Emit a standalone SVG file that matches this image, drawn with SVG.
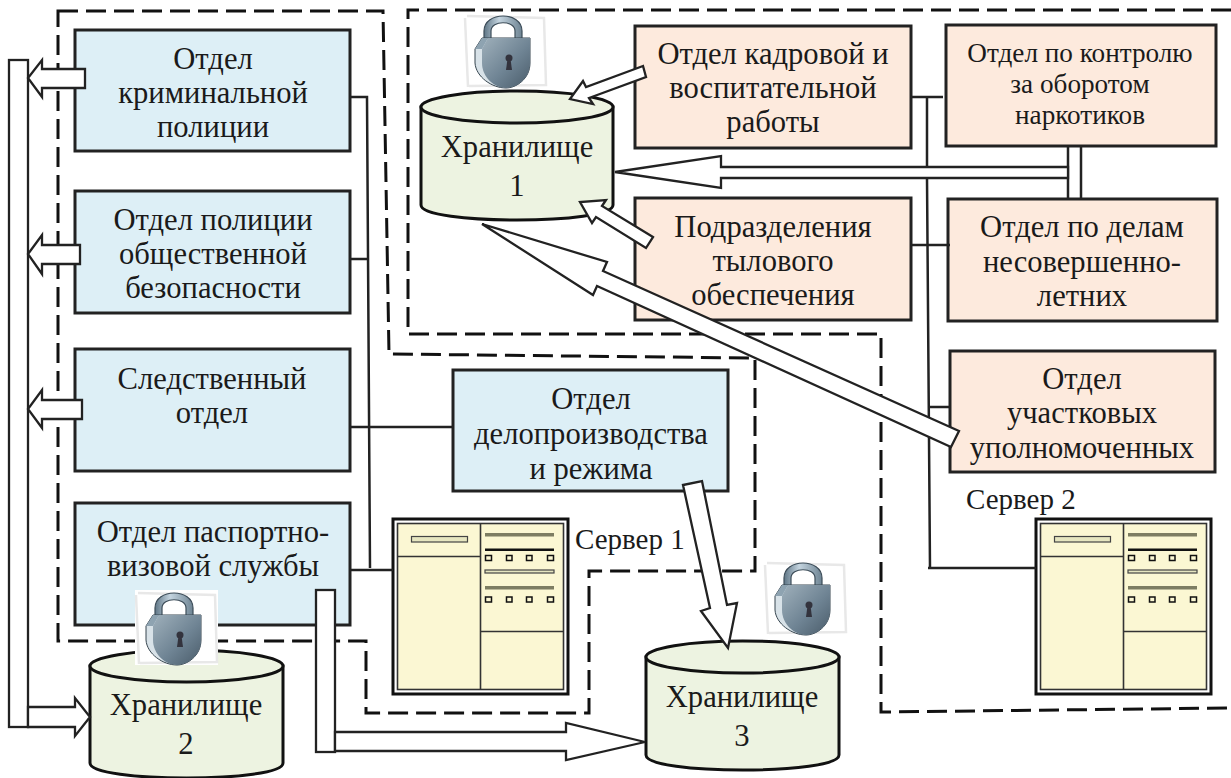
<svg xmlns="http://www.w3.org/2000/svg" width="1231" height="778" viewBox="0 0 1231 778">
<style>
text{font-family:"Liberation Serif","Times New Roman",serif;font-size:30.600px;fill:#1a1a1a;text-anchor:middle;transform:translate(0,1px)}
.sm{font-size:27.200px}
.lb{text-anchor:start;font-size:29px}
.box{stroke:#222;stroke-width:3}
.blue{fill:#ddeff6}
.peach{fill:#fdeadd}
.cyl{fill:#edf3e1;stroke:#111;stroke-width:3}
.dash{fill:none;stroke:#111;stroke-width:3;stroke-dasharray:20 8}
.ln{fill:none;stroke:#222;stroke-width:2.5}
.ar{fill:#fff;stroke:#222;stroke-width:2.3;stroke-linejoin:miter}
.s1{fill:#fbf7d3;stroke:#333;stroke-width:1.6}
.bar{fill:#e6e6c0;stroke:#444;stroke-width:1.2}
.gbar{fill:#7d7d62}
.sq{fill:#fbf7d3;stroke:#111;stroke-width:1.5}
</style>
<defs>
<linearGradient id="bodyG" x1="0" y1="0" x2="1" y2="1"><stop offset="0" stop-color="#9fb0bb"/><stop offset="0.55" stop-color="#6f8494"/><stop offset="1" stop-color="#4a5c6a"/></linearGradient>
<linearGradient id="shG" x1="0" y1="0" x2="1" y2="0"><stop offset="0" stop-color="#5f7686"/><stop offset="0.4" stop-color="#c4d4df"/><stop offset="1" stop-color="#6e8493"/></linearGradient>
<symbol id="lock" width="84" height="76" viewBox="0 0 84 76" overflow="visible">
<rect x="0" y="0" width="83" height="75" fill="#fff"/>
<path d="M1 5 L4 74 M3 3 L80 5 L82 72 L5 73" fill="none" stroke="#e8e8e8" stroke-width="2.500"/>
<path d="M20 30 V18 C20 -2 58 -2 58 18 V30 H51 V18 C51 7 27 7 27 18 V30Z" fill="url(#shG)" stroke="#3d4d59" stroke-width="1.200"/>
<path d="M11 36 L18 25 H66 V50 C66 66 52 75 42 75 C28 75 12 64 11 50Z" fill="#d8e2e8" stroke="#36454f" stroke-width="1"/>
<path d="M18 36 L24 25 H66 V50 C66 66 52 75 42 75 C30 75 18 64 18 50Z" fill="url(#bodyG)"/>
<path d="M11 36 H18 L24 25 H18Z" fill="#8ea3b1"/>
<circle cx="45" cy="45" r="3.500" fill="#33333d"/>
<path d="M43.500 46 L42 57 H48 L46.500 46Z" fill="#33333d"/>
</symbol>
<symbol id="srv" width="178" height="178" viewBox="0 0 178 178" overflow="visible">
<rect x="1" y="1" width="175" height="175" fill="#fff" stroke="#111" stroke-width="3"/>
<rect x="5.500" y="5.500" width="166" height="166" class="s1"/>
<path d="M5.500 38.500 H88.500 M88.500 5.500 V171.500 M88.500 113.500 H171.500" class="s1" fill="none"/>
<rect x="19.500" y="18.500" width="56" height="5.500" class="bar"/>
<rect x="93" y="15" width="69" height="3.500" class="gbar"/>
<rect x="93" y="30.500" width="69" height="2.500" fill="#111"/>
<rect x="93" y="52" width="69" height="3" class="bar"/>
<rect x="93" y="68" width="69" height="3.500" class="gbar"/>
<g class="sq">
<rect x="93.500" y="37.500" width="6" height="5"/><rect x="114.500" y="37.500" width="5.500" height="5"/><rect x="134.500" y="37.500" width="5.500" height="5"/><rect x="155.500" y="37.500" width="6" height="5"/>
<rect x="93.500" y="79" width="6" height="5"/><rect x="114.500" y="79" width="5.500" height="5"/><rect x="134.500" y="79" width="5.500" height="5"/><rect x="155.500" y="79" width="6" height="5"/>
</g>
</symbol>
</defs>

<g id="zones">
<path class="dash" d="M58 11 H383 L389 354 L755 358 V571 H589 V713 H366 V641 H58 Z"/>
<path class="dash" d="M1231 10 H408 V334 H881 V712 L1231 708"/>
</g>

<g id="otd-krim"><rect class="box blue" x="75" y="30" width="275" height="121"/><text x="213" y="68">Отдел</text><text x="213" y="102">криминальной</text><text x="213" y="136">полиции</text></g>
<g id="otd-ob"><rect class="box blue" x="75" y="191" width="275" height="122"/><text x="213" y="229">Отдел полиции</text><text x="213" y="263">общественной</text><text x="213" y="297">безопасности</text></g>
<g id="otd-sled"><rect class="box blue" x="75" y="349" width="275" height="122"/><text x="212" y="388">Следственный</text><text x="212" y="422">отдел</text></g>
<g id="otd-pasp"><rect class="box blue" x="75" y="503" width="275" height="122"/><text x="213" y="541">Отдел паспортно-</text><text x="213" y="575">визовой службы</text></g>
<g id="otd-delo"><rect class="box blue" x="453" y="370" width="275" height="121"/><text x="591" y="408">Отдел</text><text x="591" y="443">делопроизводства</text><text x="591" y="478">и режима</text></g>
<g id="otd-kadr"><rect class="box peach" x="635" y="26" width="276" height="122"/><text x="773" y="63">Отдел кадровой и</text><text x="773" y="97">воспитательной</text><text x="773" y="131">работы</text></g>
<g id="otd-tyl"><rect class="box peach" x="635" y="198" width="276" height="122"/><text x="773" y="236">Подразделения</text><text x="773" y="270">тылового</text><text x="773" y="304">обеспечения</text></g>
<g id="otd-nark"><rect class="box peach" x="946" y="25" width="270" height="121"/><text class="sm" x="1080" y="61">Отдел по контролю</text><text class="sm" x="1080" y="92">за оборотом</text><text class="sm" x="1080" y="123">наркотиков</text></g>
<g id="otd-nes"><rect class="box peach" x="948" y="199" width="269" height="122"/><text x="1082" y="236">Отдел по делам</text><text x="1082" y="271">несовершенно-</text><text x="1082" y="305">летних</text></g>
<g id="otd-uch"><rect class="box peach" x="950" y="351" width="265" height="121"/><text x="1082" y="388">Отдел</text><text x="1082" y="422">участковых</text><text x="1082" y="457">уполномоченных</text></g>

<g id="store1"><path class="cyl" d="M421 107 V205 C421 225 613 225 613 205 V107Z"/><ellipse class="cyl" cx="517" cy="107" rx="96" ry="16"/><text x="517" y="156">Хранилище</text><text x="517" y="195">1</text></g>
<g id="store2"><path class="cyl" d="M90 666 V763 C90 783 283 783 283 763 V666Z"/><ellipse class="cyl" cx="186.500" cy="666" rx="96.500" ry="16"/><text x="186" y="714">Хранилище</text><text x="186" y="753">2</text></g>
<g id="store3"><path class="cyl" d="M646 657 V755 C646 775 839 775 839 755 V657Z"/><ellipse class="cyl" cx="742.500" cy="657" rx="96.500" ry="16"/><text x="742" y="706">Хранилище</text><text x="742" y="745">3</text></g>

<g id="server1"><use href="#srv" x="392" y="518"/><text class="lb" x="575" y="548">Сервер 1</text></g>
<g id="server2"><use href="#srv" x="1035" y="518"/><text class="lb" x="966" y="508">Сервер 2</text></g>

<g id="connectors">
<path class="ln" d="M351 97 H367 L370 568 M351 259 H367 M350 427 H453 M351 570 H393"/>
<path class="ln" d="M911 97 H943 M927 97 V166 M927 178 L930 568 M928 568 H1036 M911 245 H950 M930 407 H950"/>
<path class="ln" d="M1068 147 V198 M1081 147 V198"/>
<rect class="ar" x="9" y="60" width="19" height="667"/>
<path class="ar" d="M85 69 V88 H42 V97 L28 78 L42 60 V69Z"/>
<path class="ar" d="M80 245 V264 H42 V274 L28 254 L42 235 V245Z"/>
<path class="ar" d="M82 400 V419 H42 V428 L28 409 L42 390 V400Z"/>
<path class="ar" d="M28 707 H75 V698 L90 717 L75 736 V727 H28Z"/>
<rect class="ar" x="316" y="590" width="19" height="162"/>
<path class="ar" d="M335 732 H566 V723 L645 742 L566 760 V751 H335Z"/>
<path class="ar" d="M1068 167 H721 V156 L615 172 L721 188 V178 H1068Z"/>
<path class="ar" d="M643 66 L586 87 L583 81 L570 99 L593 104 L589 98 L646 77Z"/>
<path class="ar" d="M653 237 L602 206 L606 200 L580 202 L592 223 L596 217 L646 248Z"/>
<path class="ar" d="M959 431 L603 271 L607 262 L482 224 L593 295 L597 286 L951 447Z"/>
<path class="ar" d="M683 485 L710 608 L701 611 L728 648 L737 603 L727 605 L702 481Z"/>
</g>

<g id="locks">
<use href="#lock" x="464" y="13"/>
<use href="#lock" x="135" y="590"/>
<use href="#lock" x="764" y="560"/>
</g>
</svg>
